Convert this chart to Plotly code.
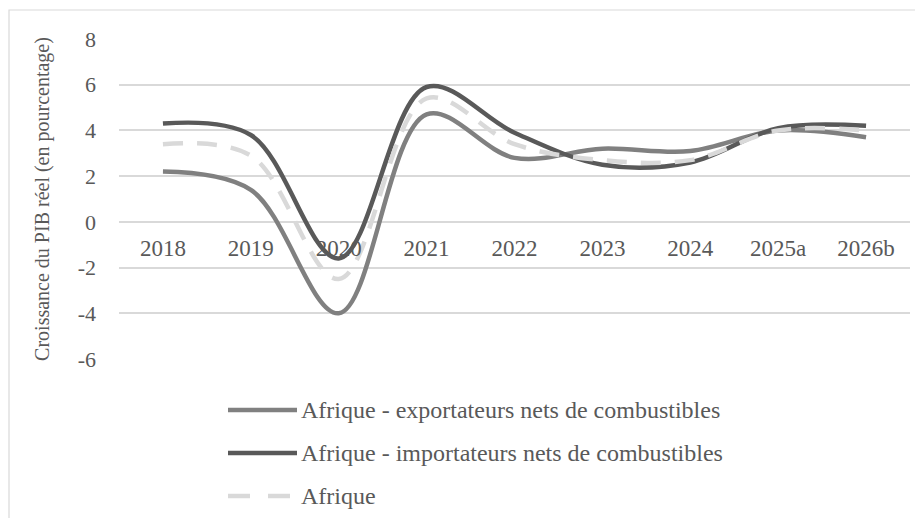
import plotly.graph_objects as go

categories = ["2018", "2019", "2020", "2021", "2022", "2023", "2024", "2025a", "2026b"]
exportateurs = [2.2, 1.4, -4.0, 4.7, 2.8, 3.2, 3.1, 4.0, 3.7]
importateurs = [4.3, 3.8, -1.6, 5.9, 3.9, 2.5, 2.6, 4.1, 4.2]
afrique = [3.4, 2.9, -2.5, 5.4, 3.4, 2.7, 2.7, 4.0, 4.0]
series_names = [
    "Afrique - exportateurs nets de combustibles",
    "Afrique - importateurs nets de combustibles",
    "Afrique",
]
y_ticks = [-6, -4, -2, 0, 2, 4, 6, 8]

FONT = "Liberation Serif, Times New Roman, serif"
TXT = "#595959"
OFF = 8  # page body margin
W, H = 923 - OFF, 518 - OFF
L, T = 119 - OFF, 39 - OFF
R = W - (910 - OFF)
B = H - (359 - OFF)
PW, PH = W - L - R, H - T - B

def px_x(px):
    return (px - OFF - L) / PW

def px_y(py):
    return (H - B - (py - OFF)) / PH

styles = [
    dict(color="#808080", width=4.5, dash="solid"),
    dict(color="#595959", width=4.5, dash="solid"),
    dict(color="#d9d9d9", width=4.5, dash="20px,14px"),
]

fig = go.Figure()
for name, vals, st in zip(series_names, [exportateurs, importateurs, afrique], styles):
    fig.add_trace(go.Scatter(
        x=categories, y=vals, name=name, mode="lines",
        line=dict(color=st["color"], width=st["width"], dash=st["dash"],
                  shape="spline", smoothing=1.0),
        showlegend=False,
    ))

shapes = [
    dict(type="rect", xref="paper", yref="paper",
         x0=px_x(9), x1=px_x(940), y0=px_y(540), y1=px_y(10),
         line=dict(color="#d9d9d9", width=1.2), fillcolor="rgba(0,0,0,0)", layer="below"),
]
annotations = []
legend_y = [410, 453, 496]
for name, st, ly in zip(series_names, styles, legend_y):
    shapes.append(dict(type="line", xref="paper", yref="paper",
                       x0=px_x(228), x1=px_x(297), y0=px_y(ly), y1=px_y(ly),
                       line=dict(color=st["color"], width=st["width"],
                                 dash="solid" if st["dash"] == "solid" else "22px,18px")))
    annotations.append(dict(xref="paper", yref="paper", x=px_x(299), y=px_y(ly),
                            text=name, showarrow=False, xanchor="left", yanchor="middle",
                            font=dict(family=FONT, size=24, color=TXT)))

fig.update_layout(
    width=W, height=H,
    margin=dict(l=L, r=R, t=T, b=B, autoexpand=False),
    paper_bgcolor="white", plot_bgcolor="white",
    font=dict(family=FONT, size=20, color=TXT),
    shapes=shapes, annotations=annotations,
    xaxis=dict(
        type="category", categoryorder="array", categoryarray=categories,
        anchor="free", position=6 / 14, showgrid=False, zeroline=False,
        showline=False, ticks="", ticklabelstandoff=10,
        tickfont=dict(family=FONT, size=23, color=TXT),
        range=[-0.5, len(categories) - 0.5],
    ),
    yaxis=dict(
        range=[-6, 8], tickvals=y_ticks, ticktext=[str(v) for v in y_ticks],
        showgrid=True, gridcolor="#d9d9d9", gridwidth=1.5,
        zeroline=False, showline=False, ticks="", ticklabelstandoff=22,
        tickfont=dict(family=FONT, size=22, color=TXT),
        title=dict(text="Croissance du PIB réel (en pourcentage)", standoff=22,
                   font=dict(family=FONT, size=20, color=TXT)),
        automargin=False,
    ),
)

fig.write_html("out.html")
